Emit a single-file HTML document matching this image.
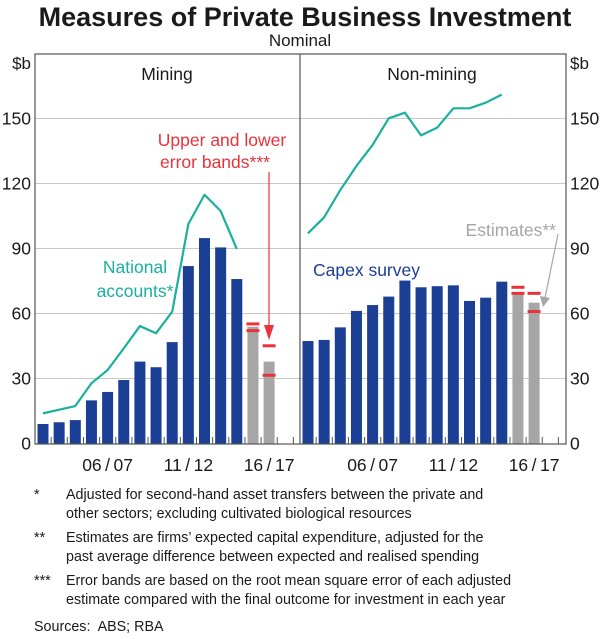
<!DOCTYPE html>
<html><head><meta charset="utf-8"><style>
body{margin:0;background:#fff;font-family:"Liberation Sans",sans-serif;}
svg text{font-family:"Liberation Sans",sans-serif;}
</style></head><body>
<svg id="chart" width="600" height="634" viewBox="0 0 600 634" xmlns="http://www.w3.org/2000/svg">
<text x="305" y="26" font-size="27" font-weight="bold" text-anchor="middle" fill="#1a1a1a">Measures of Private Business Investment</text>
<text x="300" y="46" font-size="17" text-anchor="middle" fill="#1a1a1a">Nominal</text>
<g id="grid"></g>
<g id="marks"></g>
<rect x="35" y="54" width="531" height="390" fill="none" stroke="#555" stroke-width="1.2"/>
<line x1="300" y1="54" x2="300" y2="444" stroke="#555" stroke-width="1.2"/>
<text x="167" y="80" font-size="17.5" text-anchor="middle" fill="#1a1a1a">Mining</text>
<text x="432" y="80" font-size="17.5" text-anchor="middle" fill="#1a1a1a">Non-mining</text>
<text x="31" y="69" font-size="17" text-anchor="end" fill="#1a1a1a">$b</text>
<text x="570" y="69" font-size="17" fill="#1a1a1a">$b</text>
<text x="135" y="273" font-size="17.5" text-anchor="middle" fill="#1ab0a0">National</text>
<text x="135" y="297" font-size="17.5" text-anchor="middle" fill="#1ab0a0">accounts*</text>
<text x="313" y="276" font-size="17.5" fill="#1b3f94">Capex survey</text>
<text x="222" y="146" font-size="17.5" text-anchor="middle" fill="#e8333a">Upper and lower</text>
<text x="215" y="168" font-size="17.5" text-anchor="middle" fill="#e8333a">error bands***</text>
<line x1="269" y1="172" x2="269" y2="332" stroke="#e8333a" stroke-width="1.2"/>
<polygon points="264,325 274,325 269,340" fill="#e8333a"/>
<text x="556" y="236" font-size="17.5" text-anchor="end" fill="#a6a6a6">Estimates**</text>
<line x1="558" y1="234" x2="545" y2="298" stroke="#a6a6a6" stroke-width="1.2"/>
<polygon points="540,296 550,298 543,307" fill="#a6a6a6"/>
<g font-size="14.3" fill="#1a1a1a">
<text x="34" y="499">*</text>
<text x="66" y="499">Adjusted for second-hand asset transfers between the private and</text>
<text x="66" y="518">other sectors; excluding cultivated biological resources</text>
<text x="34" y="542">**</text>
<text x="66" y="542">Estimates are firms’ expected capital expenditure, adjusted for the</text>
<text x="66" y="561">past average difference between expected and realised spending</text>
<text x="34" y="585">***</text>
<text x="66" y="585">Error bands are based on the root mean square error of each adjusted</text>
<text x="66" y="604">estimate compared with the final outcome for investment in each year</text>
<text x="34" y="631" xml:space="preserve">Sources:  ABS; RBA</text>
</g>
</svg>
<script>
const yTicks = [0, 30, 60, 90, 120, 150];
const xLabels = ["06/07", "11/12", "16/17"];
const xLabelIdx = [4, 9, 14];
const miningBars = [9.0, 9.8, 10.8, 19.9, 23.8, 29.3, 37.8, 35.2, 46.8, 81.9, 94.8, 90.5, 75.9];
const miningEst = [53.9, 37.8];
const miningBandHi = [55.2, 45.1];
const miningBandLo = [52.1, 31.5];
const miningNA = [13.9, 15.6, 17.3, 27.8, 33.9, 43.9, 54.2, 50.9, 60.8, 101.3, 114.8, 107.3, 89.8];
const nonMiningBars = [47.3, 47.8, 53.6, 61.2, 63.9, 67.8, 75.2, 72.1, 72.6, 73.0, 65.8, 67.3, 74.7];
const nonMiningEst = [69.3, 65.0];
const nonMiningBandHi = [72.1, 69.3];
const nonMiningBandLo = [69.3, 60.9];
const nonMiningNA = [97.0, 104.4, 117.0, 128.1, 137.8, 150.1, 152.7, 142.2, 145.8, 154.7, 154.7, 157.3, 161.0];

const NS = "http://www.w3.org/2000/svg";
const Y0 = 443.5, PX = 65/30, SLOT = 16.15, BW = 11;
const y = v => Y0 - v*PX;
const grid = document.getElementById('grid');
const marks = document.getElementById('marks');
const svg = document.getElementById('chart');
function mk(tag, attrs, parent){const e=document.createElementNS(NS,tag);for(const k in attrs)e.setAttribute(k,attrs[k]);(parent||marks).appendChild(e);return e;}

yTicks.forEach((t,i)=>{
  if(t>0){const g=mk('line',{x1:35,x2:566,y1:y(t),y2:y(t),stroke:'#c8c8c8','stroke-width':1},grid);
  
  }
  const l=mk('text',{x:31,y:y(t)+6,'font-size':17.5,'text-anchor':'end',fill:'#1a1a1a'},svg);
  l.textContent=t;
  
  
  const r=mk('text',{x:570,y:y(t)+6,'font-size':17.5,fill:'#1a1a1a'},svg);
  r.textContent=t;
  
  
});

function panel(x0, name, bars, est, hi, lo, na){
  const cx = i => x0 + 2.5 + BW/2 + i*SLOT;
  for(let k=1;k<=16;k++){
    const tx=x0+k*SLOT;
    if(tx<x0+262){const t=mk('line',{x1:tx,x2:tx,y1:444,y2:437,stroke:'#555','stroke-width':1});
    
    }
  }
  bars.forEach((v,i)=>{
    const r=mk('rect',{x:cx(i)-BW/2,y:y(v),width:BW,height:Y0-y(v),fill:'#1b3f94'});
    
    
  });
  est.forEach((v,j)=>{
    const i=bars.length+j;
    const r=mk('rect',{x:cx(i)-BW/2,y:y(v),width:BW,height:Y0-y(v),fill:'#a6a6a6'});
    
    
    [hi[j],lo[j]].forEach((b,m)=>{
      const e=mk('line',{x1:cx(i)-6.5,x2:cx(i)+6.5,y1:y(b),y2:y(b),stroke:'#e8333a','stroke-width':3});
      
      
    });
  });
  const p=mk('polyline',{points:na.map((v,i)=>cx(i)+','+y(v)).join(' '),fill:'none',stroke:'#1ab0a0','stroke-width':2.2,'stroke-linejoin':'round'});
  
  
  xLabels.forEach((s,k)=>{
    const t=mk('text',{x:cx(xLabelIdx[k]),y:471,'font-size':17.5,'text-anchor':'middle',fill:'#1a1a1a'},svg);
    t.textContent=s.replace('/','\u2009/\u2009');
    
    
  });
}
panel(35,'mining',miningBars,miningEst,miningBandHi,miningBandLo,miningNA);
panel(300,'non-mining',nonMiningBars,nonMiningEst,nonMiningBandHi,nonMiningBandLo,nonMiningNA);
</script>
</body></html>
